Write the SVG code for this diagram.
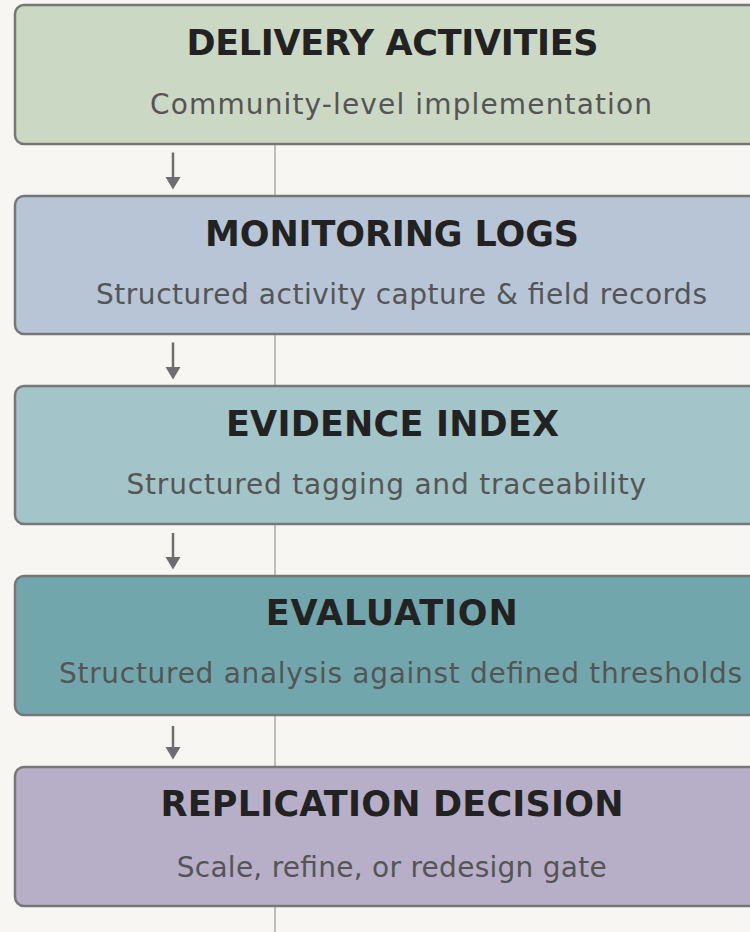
<svg xmlns="http://www.w3.org/2000/svg" width="750" height="932" viewBox="0 0 750 932">
  <defs>
    <style>
      .box { stroke: #777777; stroke-width: 2.5; }
      .title { font-family: "DejaVu Sans", "Liberation Sans", sans-serif; font-weight: bold; font-size: 35px; fill: #222222; text-anchor: middle; }
      .sub { font-family: "DejaVu Sans", "Liberation Sans", sans-serif; font-size: 28px; fill: #555555; }
      .conn { stroke: #6e6e6e; stroke-width: 2.5; fill: none; }
      .head { fill: #6e6e6e; }
      .spine { stroke: #bdbdbd; stroke-width: 2; }
    </style>
  </defs>
  <rect x="0" y="0" width="750" height="932" fill="#f7f6f2"/>
  <line class="spine" x1="275" y1="140" x2="275" y2="932"/>

  <g id="connectors">
    <path class="conn" d="M173,152.5 L173,178"/>
    <path class="head" d="M165.5,177 L180.5,177 L173,189.5 Z"/>
    <path class="conn" d="M173,342.5 L173,368"/>
    <path class="head" d="M165.5,367 L180.5,367 L173,379.5 Z"/>
    <path class="conn" d="M173,533 L173,558"/>
    <path class="head" d="M165.5,557 L180.5,557 L173,569.5 Z"/>
    <path class="conn" d="M173,726 L173,748"/>
    <path class="head" d="M165.5,747 L180.5,747 L173,759.5 Z"/>
  </g>

  <g id="delivery-activities">
    <rect class="box" x="15" y="5" width="770" height="139" rx="9" fill="#cbd8c4"/>
    <text class="title" x="392.5" y="55" textLength="412">DELIVERY ACTIVITIES</text>
    <text class="sub" x="150" y="113.5" textLength="502">Community-level implementation</text>
  </g>

  <g id="monitoring-logs">
    <rect class="box" x="15" y="196" width="770" height="138" rx="9" fill="#b7c5d7"/>
    <text class="title" x="392" y="245.5" textLength="374">MONITORING LOGS</text>
    <text class="sub" x="96" y="303.5" textLength="611">Structured activity capture &amp; field records</text>
  </g>

  <g id="evidence-index">
    <rect class="box" x="15" y="386" width="770" height="138" rx="9" fill="#a3c4c8"/>
    <text class="title" x="392.5" y="435.5" textLength="333">EVIDENCE INDEX</text>
    <text class="sub" x="126.5" y="493.5" textLength="519.5">Structured tagging and traceability</text>
  </g>

  <g id="evaluation">
    <rect class="box" x="15" y="576" width="770" height="139" rx="9" fill="#71a7ac"/>
    <text class="title" x="391.7" y="625" textLength="252">EVALUATION</text>
    <text class="sub" x="59" y="683" textLength="683">Structured analysis against defined thresholds</text>
  </g>

  <g id="replication-decision">
    <rect class="box" x="15" y="767" width="770" height="139" rx="9" fill="#b7afc8"/>
    <text class="title" x="392" y="816" textLength="463">REPLICATION DECISION</text>
    <text class="sub" x="176.7" y="877" textLength="430">Scale, refine, or redesign gate</text>
  </g>
</svg>
